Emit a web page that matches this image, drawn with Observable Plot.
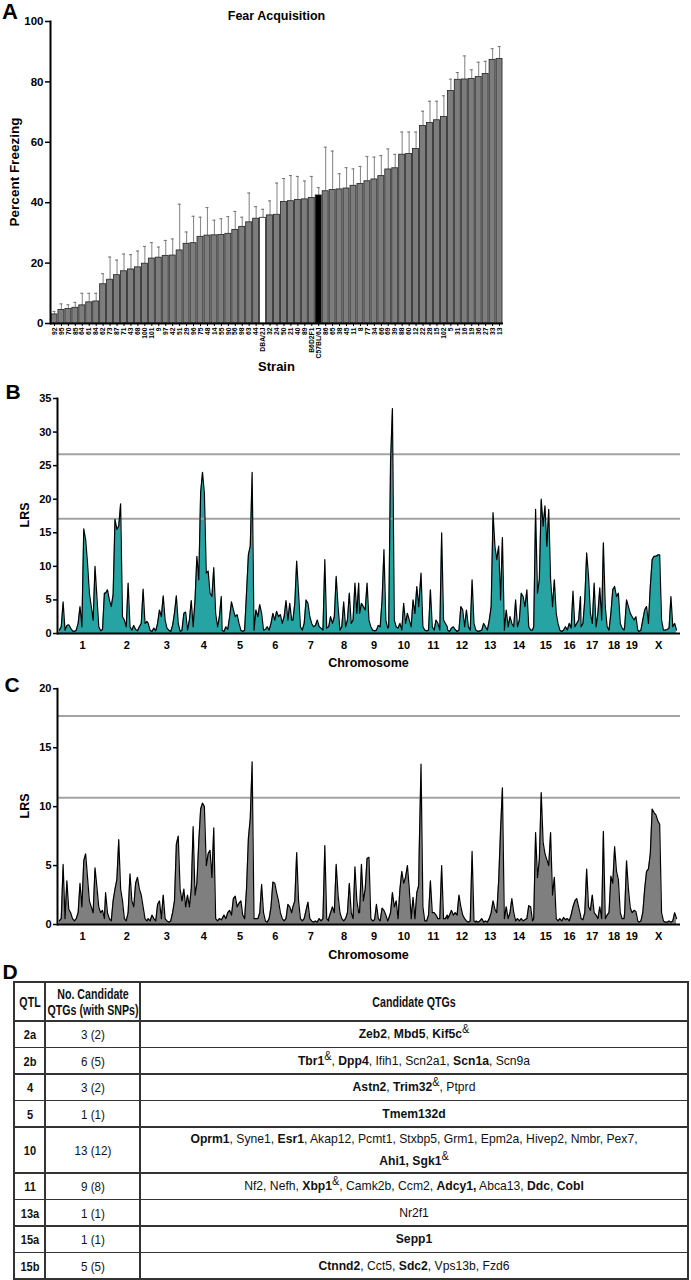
<!DOCTYPE html>
<html><head><meta charset="utf-8">
<script src="https://cdn.jsdelivr.net/npm/d3@7"></script>
<script src="https://cdn.jsdelivr.net/npm/@observablehq/plot@0.6"></script>
<style>
body{margin:0;background:#fff;}
#root{position:relative;width:691px;height:1280px;overflow:hidden;font-family:"Liberation Sans",Arial,sans-serif;color:#000;}
.lab{position:absolute;white-space:nowrap;transform:translate(-50%,-50%);line-height:1;}
.cell{position:absolute;white-space:nowrap;text-align:center;color:#111;line-height:21px;}
.cell sup{font-size:0.9em;line-height:0;vertical-align:0.45em;font-weight:normal;}
.ln{position:absolute;background:#333;}
</style></head>
<body><div id="root"></div>
<script>
// ---------- Panel A data ----------
const strains = ["92","95","70","85","64","61","84","62","73","87","71","43","68","100","101","9","97","42","51","29","96","75","48","14","55","90","56","98","63","44","DBA/2J","32","24","50","21","40","89","B6D2F1","C57BL/6J","86","65","38","45","11","8","77","34","66","69","39","88","60","12","22","28","15","102","5","31","16","19","36","27","33","13"];
const freezing = [3,4.5,4.8,5.2,6,7,7.3,13,14.5,16,17.3,17.9,18.6,19.8,21.5,21.8,22.4,22.5,24.2,26.4,26.6,28.7,29.1,29.2,29.3,29.7,31,32,33.5,34.7,35,35.8,36,40.2,40.5,40.9,41.1,41.6,42.4,43.8,44.2,44.4,44.7,45.6,46.2,47.1,47.7,48.8,51,51.4,55.9,56.1,57.8,65.4,66.4,67.3,68.4,77,80.7,80.8,81,81.6,82.6,87.3,87.6];
const sem = [1,2,1.4,1.8,4,3,2.7,3.5,7.5,5,5.7,4.9,5.4,5.7,5.3,3.5,5.1,5.5,15.3,3.9,8.9,6.5,9.3,5,5.4,5.7,6.1,3.2,9.7,4,2.8,4.8,10.5,7.8,8.5,7.8,6.1,7.1,2.6,14.6,12.9,5.2,6.9,5.6,5.8,8.2,7.4,6.8,6.8,4.6,7.5,7.3,5.6,4.9,7.2,6.3,7,3.9,2.4,7.8,3,4.9,4.2,3.7,4.1];
const yTicksA = [0,20,40,60,80,100];

// ---------- Panels B/C data ----------
const chromNames = ["1","2","3","4","5","6","7","8","9","10","11","12","13","14","15","16","17","18","19","X"];
const chromLengths = [197.2,181.7,159.6,155.6,152.5,149.5,152.5,131.7,124.1,130.0,121.8,121.3,120.3,125.2,103.5,98.3,95.3,90.8,61.3,166.7];
const stepMb = 8; // LRS read every 8 Mb along each chromosome
const lrsB = [
 [0.5,1,4.7,0.5,1.2,1.3,0.8,0.4,0.3,0.5,1.5,4,1,15.6,14,10.5,6,4,2,10,5.5,1,0.4,0.6,6],
 [6,6.5,5,4,5.8,17,15.5,16,19.3,2.5,2,1,7.5,1,0.5,1.2,0.6,0.4,1,1.5,6.6,1.5,1.8],
 [1.5,0.5,0.3,0.8,0.4,1.5,3.5,2.5,5.6,2,0.8,0.5,0.3,1.2,3,5.6,1.5,0.3,0.5,3],
 [3.2,0.5,2,4.9,1,5,11.5,8,21,24,20.8,9,9.3,6,5.5,9.8,3,1,2.5,5.5],
 [0.5,0.3,1,0.6,2.5,4.7,3.5,2.5,2.8,1.5,0.5,0.3,0.5,6,11.7,13,24,0.5,3.5],
 [2.5,4.3,3,0.5,0.6,1,0.5,1.5,3,2,3.3,2.5,2.8,1.5,2.5,4.9,2,4.5,2],
 [2,4.5,10.8,6,1,0.5,1.5,5,4.5,2.5,1.5,1,1.2,2,1,0.8,0.5,11,0.8,1],
 [1,2.5,1.5,2.5,8.5,4,0.5,1,4.7,1,2,6,1.5,2,7.5,3,7.5],
 [3,4.5,4,3.5,7.5,2,1,0.5,0.4,0.5,1.2,1,5,12.5,2,0.8],
 [1,25.5,33.5,2,1,0.8,1.5,0.5,4.5,1.5,3,2,1,5,3,7,4],
 [5,9,1,0.5,0.4,0.5,6.5,1,0.5,2,1.5,0.5,15,2,1.5,1],
 [0.5,0.3,0.8,1,0.6,0.3,0.5,4,3.5,1,3.5,1,0.5,8,1.5,0.5],
 [0.5,0.3,0.4,0.5,1.5,1,0.5,2,4,18,13,11,13,5,14.3,0.8],
 [0.5,3.5,1,2.5,1.5,1,5,1,2,6,5.5,4,6.5,1,0.5,0.5],
 [1,18.5,6,8,20,16,19,13,18.5,8,4,8,3],
 [1.5,0.5,0.3,0.5,1,0.5,1.5,0.8,6.3,1,1.5,2,5.5],
 [1,1.5,5,12,8.5,3,1.5,7.5,1,3,6.8,2],
 [13.5,4,1,0.5,3,6.5,7,5.5,6,1.5,0.8,0.5],
 [1,5,4,3,2.5,2,2.5,0.5],
 [0.3,0.5,2,3.5,4,1.5,7,11,11.5,11.5,11.7,11.7,2,0.5,0.5,0.6,0.8,5.5,1,1.5,0.5]
];
const lrsC = [
 [0.3,0.5,5.1,0.5,3.7,1.3,1,0.5,0.3,0.5,1,3.5,1.5,5.4,6,4,2,1.5,1,4.8,3.2,1.5,1,1.2,0.5],
 [2.7,1,0.5,0.3,2,3,3.8,7.2,3,2,0.5,0.3,1,4.3,2,1.5,3.5,4,3,2.5,1.5,0.5,0.3],
 [0.5,0.3,0.8,0.5,0.3,1.7,2,0.5,2.5,0.5,0.3,0.2,0.3,1,2,6.8,7.5,3,2,3],
 [1.5,2.5,1.5,3,8.3,2.5,3.5,7,9.8,10.3,10,5,6,6.3,4,8.2,0.5,0.3,0.5,0.4],
 [0.5,0.8,0.5,1,1.2,0.8,2.2,2.4,1.5,1.8,2,0.8,0.5,3,7.3,9,13.8,0.5,0.5],
 [0.5,1,3.4,1,0.3,0.2,0.5,1.5,3.6,3.5,2.7,2,1,0.5,0.3,0.5,1.7,1.5,1],
 [1.5,2,6.1,2,0.5,0.3,0.5,1.2,1.9,0.5,0.3,0.2,0.3,0.2,0.5,0.3,0.5,6.7,0.5,0.3],
 [0.5,1,1.5,1,5.1,2.5,1,0.5,0.3,0.5,1,3.5,1,0.5,4.9,2,1],
 [1,5.1,2,3,5.6,5.7,0.5,0.3,0.4,1.7,0.5,0.3,1.4,1.2,0.8,0.3],
 [0.5,1,2.7,1.5,2,0.5,3,4.5,3.5,4,5,3,0.5,2.3,0.5,2.7,3.3],
 [6,13.6,1.5,0.3,0.3,0.8,3.7,1,1,0.8,0.5,0.5,5,0.5,0.5,0.8],
 [0.5,0.8,1.2,0.8,1,0.8,2.5,1.5,0.8,0.5,0.3,0.2,0.3,6.2,0.3,0.2],
 [0.3,0.2,0.3,0.5,0.2,0.3,0.2,0.5,1,2,1.3,1,3.7,8,11.6,0.5],
 [0.5,1.5,0.5,1,2.2,1,0.3,0.5,0.3,0.5,0.3,0.4,0.5,1.6,1.5,0.3],
 [0.5,7.8,4,5.5,11.2,7,6,5.5,5,7.8,2.5,4,0.5],
 [0.3,0.5,0.3,0.6,0.4,0.5,0.3,0.8,1.5,2,2.2,1.5,0.8],
 [0.5,0.4,1,4.7,1.5,1.2,2.5,1,0.8,0.5,1.5,0.5],
 [7.9,0.5,0.8,1,4.1,3.5,6.6,4.5,3.8,1,0.5,0.5],
 [1,5.4,3,1.4,1,1.2,1.1,0.3],
 [0.2,0.3,1,3,4.5,4.7,6,9.8,9.5,9.3,8.8,8.5,1,0.3,0.2,0.2,0.3,0.2,0.3,1,0.5]
];
const thresholdsB = [26.7, 17.1];
const thresholdsC = [17.7, 10.75];
const yTicksB = [0,5,10,15,20,25,30,35];
const yTicksC = [0,5,10,15,20];

// ---------- Panel D data ----------
const tableHeader = ["QTL","No. Candidate<br>QTGs (with SNPs)","Candidate QTGs"];
const qtlNames = ["2a","2b","4","5","10","11","13a","15a","15b"];
const qtgCounts = ["3 (2)","6 (5)","3 (2)","1 (1)","13 (12)","9 (8)","1 (1)","1 (1)","5 (5)"];
const qtgGenes = [
 "<b>Zeb2</b>, <b>Mbd5</b>, <b>Kif5c</b><sup>&amp;</sup>",
 "<b>Tbr1</b><sup>&amp;</sup>, <b>Dpp4</b>, Ifih1, Scn2a1, <b>Scn1a</b>, Scn9a",
 "<b>Astn2</b>, <b>Trim32</b><sup>&amp;</sup>, Ptprd",
 "<b>Tmem132d</b>",
 "<b>Oprm1</b>, Syne1, <b>Esr1</b>, Akap12, Pcmt1, Stxbp5, Grm1, Epm2a, Hivep2, Nmbr, Pex7,<br><b>Ahi1, Sgk1</b><sup>&amp;</sup>",
 "Nf2, Nefh, <b>Xbp1</b><sup>&amp;</sup>, Camk2b, Ccm2, <b>Adcy1,</b> Abca13, <b>Ddc</b>, <b>Cobl</b>",
 "Nr2f1",
 "<b>Sepp1</b>",
 "<b>Ctnnd2</b>, Cct5, <b>Sdc2</b>, Vps13b, Fzd6"
];
const tableCols = [14, 45, 140, 688];
const tableRows = [982, 1021, 1047.5, 1074, 1100.5, 1127, 1173, 1199.5, 1226, 1252.5, 1279];

// ---------- helpers ----------
const root = document.getElementById("root");
const FONT = '"Liberation Sans", Arial, sans-serif';
function place(el, top){ const d=document.createElement("div"); d.style.position="absolute"; d.style.left="0px"; d.style.top=top+"px"; d.appendChild(el); root.appendChild(d); }
function label(text, x, y, size, rot){ const d=document.createElement("div"); d.className="lab"; d.textContent=text; d.style.left=x+"px"; d.style.top=y+"px"; d.style.fontSize=size+"px"; d.style.fontWeight="bold"; if(rot) d.style.transform=`translate(-50%,-50%) rotate(${rot}deg)`; root.appendChild(d); }

// ---------- Panel A ----------
const dataA = strains.map((s,i)=>({strain:s, value:freezing[i], top:freezing[i]+sem[i],
  color: s==="DBA/2J" ? "#ffffff" : s==="C57BL/6J" ? "#000000" : "#7d7d7d"}));
const plotA = Plot.plot({
  width:691, height:360, marginTop:21, marginBottom:37, marginLeft:50, marginRight:188,
  x:{domain:strains, padding:0.14, label:null},
  y:{domain:[0,100], label:null},
  color:{type:"identity"},
  style:{fontFamily:FONT, fontWeight:"bold", color:"#000", background:"transparent", overflow:"visible"},
  marks:[
    Plot.ruleX(dataA,{x:"strain", y1:"value", y2:"top", stroke:"#8c8c8c", strokeWidth:1.1}),
    Plot.tickY(dataA,{x:"strain", y:"top", stroke:"#7a7a7a", strokeWidth:1.1, inset:1.5}),
    Plot.barY(dataA,{x:"strain", y:"value", fill:"color", stroke:"#222", strokeWidth:0.8}),
    Plot.ruleY([0],{stroke:"#000", strokeWidth:2}),
    Plot.frame({anchor:"left", stroke:"#000", strokeWidth:2}),
    Plot.axisY({ticks:yTicksA, tickSize:5, tickPadding:2, fontSize:11.5, fontWeight:"bold", strokeWidth:1.5, label:null}),
    Plot.axisX({tickRotate:-90, tickSize:3, tickPadding:1, fontSize:6.8, fontWeight:"bold", label:null})
  ]
});
place(plotA, 0);
label("A", 10, 12, 22);
label("Fear Acquisition", 276.5, 16, 12.5);
label("Percent Freezing", 15, 172, 13.5, -90);
label("Strain", 276.5, 366, 13);

// ---------- Panels B & C ----------
const chromStart = chromLengths.map((L,i)=>d3.sum(chromLengths.slice(0,i)));
const centers = chromLengths.map((L,i)=>chromStart[i]+L/2);
const nameAt = new Map(centers.map((c,i)=>[c, chromNames[i]]));
function genomePoints(series){
  return series.flatMap((vals,c)=>vals.map((v,k)=>({pos:chromStart[c]+k*stepMb, lrs:v})));
}
function scanPlot(series, ymax, yticks, thresholds, fill, height, mt, mb){
  const pts = genomePoints(series);
  return Plot.plot({
    width:691, height, marginTop:mt, marginBottom:mb, marginLeft:57, marginRight:11,
    x:{domain:[-8,2649], label:null},
    y:{domain:[0,ymax], label:null},
    style:{fontFamily:FONT, fontWeight:"bold", color:"#000", background:"transparent", overflow:"visible"},
    marks:[
      Plot.areaY(pts,{x:"pos", y:"lrs", fill}),
      Plot.ruleY(thresholds,{stroke:"#a3a3a3", strokeWidth:2}),
      Plot.lineY(pts,{x:"pos", y:"lrs", stroke:"#000", strokeWidth:1.2}),
      Plot.ruleY([0],{stroke:"#000", strokeWidth:2}),
      Plot.frame({anchor:"left", stroke:"#000", strokeWidth:2}),
      Plot.axisY({ticks:yticks, tickSize:4, tickPadding:2, fontSize:11, fontWeight:"bold", strokeWidth:1.5, label:null}),
      Plot.axisX({ticks:centers, tickFormat:d=>nameAt.get(d), tickSize:0, tickPadding:8, fontSize:11, fontWeight:"bold", label:null})
    ]
  });
}
place(scanPlot(lrsB, 35, yTicksB, thresholdsB, "#26a4a4", 280, 18, 27), 380);
label("B", 13, 391, 21);
label("LRS", 25, 515, 12.5, -90);
label("Chromosome", 368.5, 663, 12.5);

place(scanPlot(lrsC, 20, yTicksC, thresholdsC, "#7f7f7f", 290, 28.3, 26), 660);
label("C", 12, 684, 21);
label("LRS", 25, 806, 12.5, -90);
label("Chromosome", 368.5, 955, 12.5);

// ---------- Panel D (table) ----------
label("D", 10, 971, 21);
function line(x, y, w, h){ const d=document.createElement("div"); d.className="ln"; d.style.left=x+"px"; d.style.top=y+"px"; d.style.width=w+"px"; d.style.height=h+"px"; root.appendChild(d); }
const LW = 1.6;
tableRows.forEach(y=>line(tableCols[0]-LW/2, y-LW/2, tableCols[3]-tableCols[0]+LW, LW));
tableCols.forEach(x=>line(x-LW/2, tableRows[0]-LW/2, LW, tableRows[tableRows.length-1]-tableRows[0]+LW));
function cell(html, col, row, size, scale, bold, lh){
  const d=document.createElement("div"); d.className="cell"; d.innerHTML=html;
  const cx=(tableCols[col]+tableCols[col+1])/2, cy=(tableRows[row]+tableRows[row+1])/2;
  d.style.left=cx+"px"; d.style.top=cy+"px"; d.style.fontSize=size+"px";
  d.style.fontWeight = bold ? "bold" : "normal";
  if (lh) d.style.lineHeight = lh+"px";
  d.style.transform=`translate(-50%,-50%) scaleX(${scale})`;
  root.appendChild(d);
}
tableHeader.forEach((h,c)=>cell(h, c, 0, 14, 0.76, true, 16));
qtlNames.forEach((q,i)=>{
  cell(q, 0, i+1, 13.5, 0.82, true);
  cell(qtgCounts[i], 1, i+1, 13.5, 0.86, false);
  cell(qtgGenes[i], 2, i+1, 13.5, 0.9, false, 22);
});
</script>
</body></html>
